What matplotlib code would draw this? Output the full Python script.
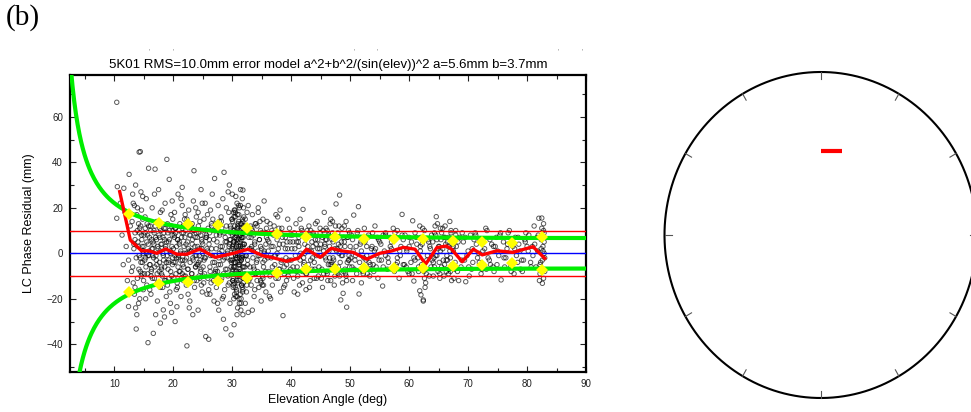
import numpy as np
import matplotlib
matplotlib.use("Agg")
import matplotlib.pyplot as plt
from matplotlib.ticker import MultipleLocator

plt.rcParams['font.family'] = ['Liberation Sans', 'DejaVu Sans']

# ---------------- data ----------------
title = "5K01 RMS=10.0mm error model a^2+b^2/(sin(elev))^2 a=5.6mm b=3.7mm"
model_a = 5.6
model_b = 3.7
rms_level = 10.0

# scatter residuals (elevation deg, residual mm)
scatter_elev = [
    10.4, 10.5, 10.4, 11.0, 11.3, 11.5, 11.8, 12.0, 12.2, 12.4,
    12.5, 12.7, 12.9, 13.1, 13.3, 13.5, 13.7, 13.9, 12.4, 11.6,
    13.0, 13.1, 13.2, 13.3, 13.4, 13.5, 13.6, 13.7, 13.8, 13.9,
    14.0, 14.1, 14.2, 14.3, 14.4, 14.5, 14.6, 14.7, 14.8, 14.9,
    13.2, 13.5, 13.8, 14.1, 14.4, 14.7, 14.9, 13.4, 14.2, 14.6,
    13.9, 14.3, 14.8, 13.6, 14.5,
    15.0, 15.1, 15.2, 15.3, 15.4, 15.5, 15.6, 15.7, 15.8, 15.9,
    16.0, 16.1, 16.2, 16.3, 16.4, 16.5, 16.6, 16.7, 16.8, 16.9,
    17.0, 17.1, 17.2, 17.3, 17.4, 17.5, 17.6, 17.7, 17.8, 17.9,
    18.0, 18.1, 18.2, 18.3, 18.4, 18.5, 18.6, 18.7, 18.8, 18.9,
    19.0, 19.1, 19.2, 19.3, 19.4, 19.5, 19.6, 19.7, 19.8, 19.9,
    15.3, 15.8, 16.3, 16.8, 17.3, 17.8, 18.3, 18.8, 19.3, 19.8,
    15.5, 16.0, 16.5, 17.0, 17.5, 18.0, 18.5, 19.0, 19.5, 19.9,
    15.2, 15.7, 16.2, 16.7, 17.2, 17.7, 18.2, 18.7, 19.2, 19.7,
    20.0, 20.1, 20.2, 20.3, 20.4, 20.5, 20.6, 20.7, 20.8, 20.9,
    21.0, 21.1, 21.2, 21.3, 21.4, 21.5, 21.6, 21.7, 21.8, 21.9,
    22.0, 22.1, 22.2, 22.3, 22.4, 22.5, 22.6, 22.7, 22.8, 22.9,
    23.0, 23.1, 23.2, 23.3, 23.4, 23.5, 23.6, 23.7, 23.8, 23.9,
    24.0, 24.1, 24.2, 24.3, 24.4, 24.5, 24.6, 24.7, 24.8, 24.9,
    20.3, 20.8, 21.3, 21.8, 22.3, 22.8, 23.3, 23.8, 24.3, 24.8,
    20.5, 21.0, 21.5, 22.0, 22.5, 23.0, 23.5, 24.0, 24.5, 24.9,
    20.2, 20.7, 21.2, 21.7, 22.2, 22.7, 23.2, 23.7, 24.2, 24.7,
    25.0, 25.1, 25.2, 25.3, 25.4, 25.5, 25.6, 25.7, 25.8, 25.9,
    26.0, 26.1, 26.2, 26.3, 26.4, 26.5, 26.6, 26.7, 26.8, 26.9,
    27.0, 27.1, 27.2, 27.3, 27.4, 27.5, 27.6, 27.7, 27.8, 27.9,
    28.0, 28.1, 28.2, 28.3, 28.4, 28.5, 28.6, 28.7, 28.8, 28.9,
    29.0, 29.1, 29.2, 29.3, 29.4, 29.5, 29.6, 29.7, 29.8, 29.9,
    25.3, 25.8, 26.3, 26.8, 27.3, 27.8, 28.3, 28.8, 29.3, 29.8,
    25.5, 26.0, 26.5, 27.0, 27.5, 28.0, 28.5, 29.0, 29.5, 29.9,
    25.2, 25.7, 26.2, 26.7, 27.2, 27.7, 28.2, 28.7, 29.2, 29.7,
    30.0, 30.1, 30.2, 30.3, 30.4, 30.5, 30.6, 30.7, 30.8, 30.9,
    31.0, 31.1, 31.2, 31.3, 31.4, 31.5, 31.6, 31.7, 31.8, 31.9,
    30.0, 30.2, 30.4, 30.6, 30.8, 31.0, 31.2, 31.4, 31.6, 31.8,
    30.1, 30.3, 30.5, 30.7, 30.9, 31.1, 31.3, 31.5, 31.7, 31.9,
    30.05, 30.25, 30.45, 30.65, 30.85, 31.05, 31.25, 31.45, 31.65, 31.85,
    30.15, 30.35, 30.55, 30.75, 30.95, 31.15, 31.35, 31.55, 31.75, 31.95,
    30.0, 30.3, 30.6, 30.9, 31.2, 31.5, 31.8, 30.2, 30.8, 31.4,
    32.0, 32.1, 32.2, 32.3, 32.4, 32.5, 32.6, 32.7, 32.8, 32.9,
    33.0, 33.1, 33.2, 33.3, 33.4, 33.5, 33.6, 33.7, 33.8, 33.9,
    34.0, 34.1, 34.2, 34.3, 34.4, 34.5, 34.6, 34.7, 34.8, 34.9,
    35.0, 35.1, 35.2, 35.3, 35.4, 35.5, 35.6, 35.7, 35.8, 35.9,
    33.2, 33.7, 34.2, 34.7, 35.2, 35.7, 33.4, 34.4, 35.4, 34.9,
    32.2, 32.7, 33.3, 33.8, 34.3, 34.8, 35.3, 35.8, 32.5, 33.5,
    36.0, 36.2, 36.4, 36.6, 36.8, 37.0, 37.2, 37.4, 37.6, 37.8,
    38.0, 38.2, 38.4, 38.6, 38.8, 39.0, 39.2, 39.4, 39.6, 39.8,
    36.3, 36.9, 37.5, 38.1, 38.7, 39.3, 39.9, 37.1, 38.3, 39.5,
    36.1, 36.7, 37.3, 37.9, 38.5, 39.1, 39.7, 36.5, 37.7, 38.9,
    40.0, 40.2, 40.4, 40.6, 40.8, 41.0, 41.2, 41.4, 41.6, 41.8,
    42.0, 42.2, 42.4, 42.6, 42.8, 43.0, 43.2, 43.4, 43.6, 43.8,
    44.0, 44.2, 44.4, 44.6, 44.8, 43.1, 43.7, 44.3, 44.9, 40.5,
    40.3, 40.9, 41.5, 42.1, 42.7, 43.3, 43.9, 44.5, 41.1, 42.3,
    41.3, 41.9, 42.5, 43.5, 44.1,
    45.0, 45.2, 45.4, 45.6, 45.8, 46.0, 46.2, 46.4, 46.6, 46.8,
    47.0, 47.2, 47.4, 47.6, 47.8, 48.0, 48.2, 48.4, 48.6, 48.8,
    49.0, 49.2, 49.4, 49.6, 49.8, 45.1, 45.7, 46.3, 46.9, 47.5,
    48.1, 48.7, 49.3, 49.9, 45.3, 45.9, 46.5, 47.1, 47.7, 48.3,
    48.9, 49.5, 45.5, 46.1, 46.7, 47.3, 47.9, 48.5, 49.1, 49.7,
    45.8, 46.6, 47.4, 48.2, 49.0, 49.8, 46.0, 47.0, 48.0, 49.4,
    50.0, 50.3, 50.6, 50.9, 51.2, 51.5, 51.8, 52.1, 52.4, 52.7,
    53.0, 53.3, 53.6, 53.9, 54.2, 54.5, 54.8, 51.4, 50.4, 52.9,
    50.2, 50.8, 51.1, 51.7, 52.3, 52.6, 53.5, 54.1, 54.7, 53.8,
    50.5, 51.9, 52.8, 53.2, 54.4,
    55.0, 55.5, 56.0, 56.5, 57.0, 57.5, 58.0, 58.5, 59.0, 59.5,
    60.0, 60.5, 61.0, 61.5, 58.8, 60.6, 60.8, 55.3, 56.3, 57.3,
    58.3, 59.3, 60.3, 61.3, 55.8, 56.8, 57.8, 58.6, 59.8, 61.8,
    56.0, 57.0, 58.0, 59.0, 60.0, 61.0, 57.6, 59.6, 61.6, 55.6,
    61.8, 62.0, 62.2, 62.4, 62.5, 62.6, 62.8, 63.0, 63.2, 63.4,
    63.6, 63.8, 62.1, 62.7, 63.1, 63.5, 62.3, 62.9, 63.7, 61.9,
    62.4, 63.3, 62.6, 63.9, 62.0,
    64.0, 64.3, 64.6, 64.9, 65.2, 65.5, 65.8, 66.1, 66.4, 66.7,
    67.0, 67.3, 67.6, 67.9, 64.2, 64.8, 65.4, 66.0, 66.6, 67.2,
    64.5, 65.1, 65.7, 66.3, 66.9, 67.5, 64.1, 65.0, 66.8, 67.7,
    65.3, 65.9, 66.5, 67.1, 64.7,
    68.0, 68.4, 68.8, 69.2, 69.6, 70.0, 70.4, 70.8, 71.2, 71.6,
    72.0, 72.4, 72.8, 73.2, 73.6, 74.0, 74.4, 74.8, 75.2, 75.6,
    76.0, 76.4, 76.8, 77.2, 77.6, 78.0, 78.4, 78.8, 79.2, 79.6,
    68.2, 69.0, 69.8, 70.6, 71.4, 72.2, 73.0, 73.8, 74.6, 75.4,
    76.2, 77.0, 77.8, 78.6, 79.4, 68.6, 70.2, 71.8, 73.4, 75.0,
    76.6, 78.2, 79.8, 69.4, 71.0, 72.6, 74.2, 77.4, 78.9, 80.0,
    80.3, 80.6, 80.9, 81.2, 81.5, 81.8, 82.0, 82.2, 82.4, 82.5,
    82.6, 82.7, 82.8, 82.9, 83.0, 82.5, 82.6, 82.8, 82.3, 82.9,
    81.0, 81.7, 82.1, 82.7, 83.0,
    17.8, 20.3, 32.7, 28.5, 31.8, 29.5, 21.5, 18.5,
]
scatter_resid = [
    66.4, 29.3, 15.4, 22, 8, -5, 18, 3, -12, -23.4,
    34.7, 12, -8, 26, 4, -15, -33.3, 20, -3, 28.6,
    14, -6, 22, 2, -18, 9, 30, -2, 17, -11,
    5, -22, 44.5, 11, 44.7, -4, 19, -9, 25, 0,
    -13, 6, -27, 13, -8, 3, -16, 21, -1, 8,
    10, -20, 15, -24, 27,
    3, -9, 16, -2, 24, -14, 8, -39.3, 37.4, 1,
    -5, 12, -18, 6, 20, -1, -35.2, 10, -11, 37.0,
    7, -3, 14, -21, 2, 28, -8, 11, -15, 4,
    -6, 19, 0, -24.9, 9, -12, 22, 3, -4, 41.3,
    13, -7, 5, 32.5, -17, 1, 17, -10, 8, -2,
    -20, 12, -7, 26, -13, 18, -1, -19, 10, 23,
    5, -16, 2, -27, 14, -9, 6, -14, -22, 15,
    9, -1, -10, 4, -5, 7, -15, 11, -3, -26,
    2, -11, 18, -4, 9, -16, -23.5, 6, 26, -1,
    -8, 13, 0, -19, 7, 21, -5, -12, 3, 15,
    -3, 10, -14, -40.7, 5, -7, 19, 1, -21, 8,
    12, -9, 4, -2, 23, 36.3, -15, 7, -6, 16,
    -12, 3, -25, 9, -1, 14, -8, 28, 2, -17,
    11, -6, 24, -10, 15, -13, -27, 20, -4, 6,
    -2, 4, -9, 17, -18, 1, 10, -5, -11, 22,
    7, -15, -3, 9, 0, -24, 13, -1, 18, -7,
    4, -10, 15, -2, 22, -36.6, 8, -18, 1, 11,
    -37.8, 6, -6, 19, -13, 2, 26, -4, 10, -21,
    32.9, -1, 13, -15, 5, -8, 21, -25, 0, 9,
    -5, 16, -11, 3, 24, -19, 35.6, -2, 7, -33.2,
    12, -7, 1, -14, 18, 4, -22, 9, -35.9, -3,
    -9, 17, -1, -12, 8, 14, -20, 5, 27, -6,
    7, -16, 12, -4, -22, 3, -9, 20, -13, 15,
    -3, 2, -18, 15, -7, -2, 11, -16, 0, 6,
    3, -12, 18, -31.4, 7, -4, 25, -17, 11, -1,
    -8, 14, -22, 5, 28, -3, -14, 9, -27, 20,
    15, -6, 1, -19, 22, 6, -10, 13, -2, -16,
    -3, 10, -15, 4, -24, 17, -7, 2, 24, -11,
    8, -20, 12, -9, 0, 21, -5, -25, 7, -13,
    -11, 19, -1, 9, -13, 2, -18, 11, -6, 16,
    26, 5, -8, 12, -2, -20, 3, -14, -27, 8,
    4, -9, 15, -1, -17, 10, -5, 21, -12, 2,
    -6, 12, -14, 3, 17, -2, 8, -19, 5, -9,
    13, -4, -12, 1, 20, -15, 6, -1, 10, -21,
    2, -10, 15, -6, 23, -3, 9, -17, -1, 14,
    7, -7, -3, 14, -11, 4, -25, 18, 0, -13,
    -22, 9, 11, -16, -8, 3, -14, 7, 18, 1,
    6, -8, 13, -2, -14, 9, -5, 17, 0, -11,
    4, -17, 11, -27.4, -6, 2, -12, 15, -3, 8,
    -19, 3, -9, 19, -15, 5, -7, 12, -4, -10,
    1, 10, -1, -7, 7, -2, 11, -20, 16, -14,
    -3, 8, -11, 2, 13, -6, 5, -14, 0, 10,
    19.3, -4, 7, -9, 3, 12, -12, 1, -2, 8,
    -7, 4, 14, -10, 2, -15, 9, -1, 11, -17,
    5, -8, 15, -5, 10, -3, -11, 6, -18, 0,
    3, -13, -16, 5, 13,
    4, -7, 10, 18.0, -2, 6, -12, 1, 13, -5,
    9, -3, -10, 21.7, 2, -6, 25.6, -20.5, 11, -17.6,
    5, -9, -23.7, 7, -1, -11, 3, 8, -4, 12,
    0, -13, 14, -6, -15, 11, -2, 5, -8, 3,
    7, -4, 1, -9, 15, -14, 9, -1, -7, 10,
    6, -5, 2, -10, 12, -3, -8, 14, 4, -12,
    3, -6, 16.8, -1, 9, -17.9, 5, -8, 11, -3,
    7, -10, 2, -5, 12, -1, 6, 20.5, -12, -9,
    8, -3, -9, 4, -2, 6, -7, 1, -11, 9,
    1, -13, 3, -4, -6,
    5, -14.4, 8, -4, 2, -8, 10, -1, 6, -6,
    3, -9, 9, -2, 17.1, 14.3, -12.2, -3, -7, 11,
    -11, 8, -4, 4, 1, 7, -5, 3, -8, 12,
    -1, 5, -2, -5, 7, -3, 9, 1, -6, 8,
    -16.5, -18.3, 4, -21.0, -8, 10, -13, -3, 6, -10,
    2, 8, -5, -15, -1, 3, 11, -9, -6, 1,
    -20.5, 5, -11, -3, 7,
    5, -6, 16.1, 2, -9, 9, -3, 12, -1, 7,
    -8, 4, -11, 10, -2, 13, 6, -5, 3, -12,
    8, -4, 11, -8, 14, 1, -10, 3, -7, 6,
    1, 7, -3, 9, -1,
    3, -12, -6, 5, -12.5, 1, 8, -4, 9, -2,
    6, -7, 2, 10, -3, 4, -8, 7, -1, -11.7,
    5, -2, 9, -6, 3, 7, -4, 1, -8, 6,
    -8, 9, -1, -7, 4, -9, 11, -5, 3, 8,
    -6, 10, -9, 4, -3, 7, -10, 0, -2, 1,
    2, -1, 9, -3, 6, -5, -6, 5, -7, 3,
    8, -4, 3, 12, -6, 1, 15.4, -9, 6, 15.5,
    -13.2, 3, -11, 9, -2, 11, -7, 13, -4, 5,
    -1, 7, -12, 1, -8,
    -30.7, -30, -26, -29, 27.8, 30, 29, -28,
]

# dense core of the point cloud (within roughly +-20 mm)
core_elev = [
    14.05, 14.15, 14.25, 14.35, 14.45, 14.55, 14.65, 14.75, 14.85, 14.95,
    15.05, 15.15, 15.25, 15.35, 15.45, 15.55, 15.65, 15.75, 15.85, 15.95,
    16.05, 16.15, 16.25, 16.35, 16.45, 16.55, 16.65, 16.75, 16.85, 16.95,
    17.05, 17.15, 17.25, 17.35, 17.45, 17.55, 17.65, 17.75, 17.85, 17.95,
    18.05, 18.15, 18.25, 18.35, 18.45, 18.55, 18.65, 18.75, 18.85, 18.95,
    19.05, 19.15, 19.25, 19.35, 19.45, 19.55, 19.65, 19.75, 19.85, 19.95,
    20.05, 20.15, 20.25, 20.35, 20.45, 20.55, 20.65, 20.75, 20.85, 20.95,
    21.05, 21.15, 21.25, 21.35, 21.45, 21.55, 21.65, 21.75, 21.85, 21.95,
    22.05, 22.15, 22.25, 22.35, 22.45, 22.55, 22.65, 22.75, 22.85, 22.95,
    23.05, 23.15, 23.25, 23.35, 23.45, 23.55, 23.65, 23.75, 23.85, 23.95,
    24.05, 24.15, 24.25, 24.35, 24.45, 24.55, 24.65, 24.75, 24.85, 24.95,
    25.05, 25.25, 25.45, 25.65, 25.85, 26.05, 26.25, 26.45, 26.65, 26.85,
    27.05, 27.25, 27.45, 27.65, 27.85, 28.05, 28.25, 28.45, 28.65, 28.85,
    29.05, 29.25, 29.45, 29.65, 29.85, 25.15, 26.15, 27.15, 28.15, 29.15,
    29.55, 29.65, 29.75, 29.85, 29.95, 30.05, 30.15, 30.25, 30.35, 30.45,
    30.55, 30.65, 30.75, 30.85, 30.95, 31.05, 31.15, 31.25, 31.35, 31.45,
    31.55, 31.65, 31.75, 31.85, 31.95, 32.05, 32.15, 32.25, 32.35, 32.45,
    30.1, 30.2, 30.3, 30.4, 30.5, 30.6, 30.7, 30.8, 30.9, 31.0,
    31.1, 31.2, 31.3, 31.4, 31.5, 31.6, 31.7, 31.8, 31.9, 30.0,
    30.12, 30.32, 30.52, 30.72, 30.92, 31.12, 31.32, 31.52, 31.72, 31.92,
    30.18, 30.38, 30.58, 30.78, 30.98, 31.18, 31.38, 31.58, 31.78, 31.98,
    30.08, 30.28, 30.48, 30.68, 30.88, 31.08, 31.28, 31.48, 31.68, 31.88,
    32.6, 32.8, 33.0, 33.2, 33.4, 33.6, 33.8, 34.0, 34.2, 34.4,
    34.6, 34.8, 35.0, 35.2, 35.4, 35.6, 35.8, 36.0, 36.2, 36.4,
    36.6, 36.8, 37.0, 37.2, 37.4, 37.6, 37.8, 38.0, 38.2, 38.4,
    38.6, 38.8, 39.0, 39.2, 39.4, 39.6, 39.8, 33.9, 35.1, 37.9,
    40.1, 40.3, 40.5, 40.7, 40.9, 41.1, 41.3, 41.5, 41.7, 41.9,
    42.1, 42.3, 42.5, 42.7, 42.9, 43.1, 43.3, 43.5, 43.7, 43.9,
    44.1, 44.3, 44.5, 44.7, 44.9, 45.1, 45.3, 45.5, 45.7, 45.9,
    46.1, 46.3, 46.5, 46.7, 46.9, 47.1, 47.3, 47.5, 47.7, 47.9,
    48.1, 48.3, 48.5, 48.7, 48.9, 49.1, 49.3, 49.5, 49.7, 49.9,
    50.1, 50.4, 50.7, 51.0, 51.3, 51.6, 51.9, 52.2, 52.5, 52.8,
    53.1, 53.4, 53.7, 54.0, 54.3, 54.6, 54.9, 55.2, 55.6, 56.0,
    56.4, 56.8, 57.2, 57.6, 58.0, 58.4, 58.8, 59.2, 59.6, 60.0,
    60.4, 60.8, 61.2, 61.6, 61.9,
    64.1, 64.3, 64.5, 64.7, 64.9, 65.1, 65.3, 65.5, 65.7, 65.9,
    66.1, 66.3, 66.5, 66.7, 66.9, 67.1, 67.3, 67.5, 67.7, 67.9,
    64.4, 65.2, 66.2, 67.0, 67.8,
    68.3, 68.9, 69.5, 70.1, 70.7, 71.3, 71.9, 72.5, 73.1, 73.7,
    74.3, 74.9, 75.5, 76.1, 76.7, 77.3, 77.9, 78.5, 79.1, 79.7,
    80.2, 80.7, 81.3, 81.9, 82.2, 82.4, 82.6, 82.8, 82.1, 82.9,
]
core_resid = [
    3, -7, 9, -2, 12, -10, 6, -4, 1, -12,
    8, -3, 11, -6, 0, 13, -9, 4, -1, 7,
    -5, 10, -8, 2, -11, 5, -2, 9, -6, 12,
    -1, 6, -9, 3, -13, 8, -4, 1, 10, -7,
    4, -10, 7, -3, 11, -6, 2, -12, 5, -1,
    9, -4, -11, 6, 0, -8, 12, 3, -5, 10,
    -4, 8, -1, 11, -9, 3, -13, 6, -2, 10,
    5, -8, 1, -11, 9, -3, 12, -6, 0, 7,
    -10, 4, -2, 13, -7, 2, -12, 8, -4, 11,
    1, -9, 6, -3, 10, -12, 3, -6, 9, -1,
    7, -5, 12, -10, 2, -3, 8, -14, 5, 0,
    -6, 10, -2, 7, -11, 4, -8, 13, -1, 6,
    -9, 2, 11, -5, 8, -12, 1, -3, 9, -7,
    5, -10, 3, 12, -4, -13, 9, -8, 14, -2,
    6, -3, 11, -9, 2, 14, -15, 5, -6, 19,
    -1, 8, -12, 17, -4, 3, -20, 10, -8, 1,
    13, -2, -17, 7, -10, 4, -6, 12, -1, -14,
    -7, 4, 9, -13, 16, -2, 6, -19, 1, 11,
    -5, 20, -9, 3, -22, 7, -1, 14, -11, -8,
    10, -4, 18, -16, 5, -12, 8, -3, 15, -6,
    2, -18, 7, -2, 13, -9, 21, -14, 4, -1,
    -12, 16, -6, 3, -10, 9, -4, 6, -15, 12,
    -3, 7, -11, 2, 10, -6, 4, -9, 12, -1,
    6, -12, 9, -4, 1, -8, 11, -2, 5, -10,
    3, -6, 8, -1, -11, 6, 2, -7, 9, -3,
    4, -9, 7, -5, 2, -8, 5, 13, -14, 11,
    2, -6, 9, -1, 5, -10, 7, -3, 11, -8,
    -2, 4, -9, 8, -5, 1, 10, -7, 3, -4,
    6, -11, 2, -6, 9, -1, 7, -9, 4, -3,
    10, -5, 3, -12, 6, -2, 8, -6, 1, -9,
    12, -4, 5, -1, -8, 3, -10, 7, -3, 9,
    -2, 6, -7, 3, 10, -4, 1, -9, 5, -1,
    8, -5, 3, -8, 2, 7, -3, 4, -6, 9,
    -2, 3, -7, 6, -4, 1, 8, -5, 2, -9,
    5, -2, 7, -8, 3,
    -4, 9, -1, 6, -8, 3, 11, -6, 2, -10,
    7, -3, 5, -9, 1, 10, -5, 3, -7, 8,
    12, -11, 4, -2, -4,
    5, -3, 7, -6, 2, 8, -4, 1, -7, 6,
    3, -5, 9, -2, 4, -8, 2, 7, -3, 5,
    1, -6, 4, 8, -5, 2, -3, 10, -7, 0,
]

# binned RMS (yellow diamonds)
bin_elev = [12.4, 17.5, 22.5, 27.5, 32.5, 37.5, 42.5, 47.4, 52.4, 57.4,
            62.4, 67.4, 72.4, 77.4, 82.5]
bin_rms = [17.2, 13.5, 12.7, 12.4, 11.0, 8.5, 7.0, 7.0, 6.3, 6.3,
           6.3, 5.4, 5.1, 4.4, 7.3]

# running mean (red line)
mean_elev = [10.9, 12.7, 14.6, 15.8, 17.2, 18.7, 20.6, 22.3, 24.5, 27.1,
             30.2, 32.7, 35.3, 36.7, 39.2, 41.2, 42.6, 44.9, 46.8, 48.5,
             50.5, 52.8, 55.0, 57.0, 59.0, 61.0, 62.8, 64.7, 66.3, 67.2,
             69.0, 70.9, 72.4, 74.9, 77.6, 81.0, 83.0]
mean_resid = [27.1, 5.8, 1.1, 1.1, 0.0, 1.9, -0.4, -0.4, 1.9, -1.8,
              0.0, 1.8, -1.2, -1.8, -3.5, -2.2, 1.8, -1.8, 2.2, 1.1,
              0.4, -2.6, 0.0, 1.0, 2.6, 1.8, -4.8, 2.5, 3.2, 1.8,
              -3.7, 1.8, -0.7, 1.1, 0.4, 2.9, -2.2]

# sky plot track (red dash) in normalized sky coordinates
track_x = [0.0, 0.136]
track_y = [0.515, 0.515]

x_ticks = [10, 20, 30, 40, 50, 60, 70, 80, 90]
y_ticks = [-40, -20, 0, 20, 40, 60]

# ---------------- figure ----------------
W, H = 971, 412
fig = plt.figure(figsize=(W / 100, H / 100), dpi=100)

def rect(l, t, r, b):
    return [l / W, 1 - b / H, (r - l) / W, (b - t) / H]

ax = fig.add_axes(rect(70, 75, 586, 372))

# model curves from the error model stated in the title
elev_grid = np.linspace(2.3, 90, 600)
model = np.sqrt(model_a ** 2 + model_b ** 2 / np.sin(np.radians(elev_grid)) ** 2)

all_elev = scatter_elev + core_elev
all_resid = scatter_resid + core_resid
ax.scatter(all_elev, all_resid, s=10, facecolors='none', edgecolors='black',
           linewidths=0.7, alpha=0.65, zorder=2)
ax.axhline(rms_level, color='#ff0000', lw=1.0, zorder=3)
ax.axhline(-rms_level, color='#ff0000', lw=1.0, zorder=3)
ax.axhline(0, color='#0000ff', lw=1.0, zorder=3)
ax.plot(elev_grid, model, color='#00ee00', lw=3.0, zorder=4, solid_capstyle='butt')
ax.plot(elev_grid, -model, color='#00ee00', lw=3.0, zorder=4, solid_capstyle='butt')
ax.plot(mean_elev, mean_resid, color='#ff0000', lw=2.4, zorder=5)
ax.plot(bin_elev, bin_rms, linestyle='none', marker='D', ms=6, color='#ffff00',
        markeredgewidth=0, zorder=6)
ax.plot(bin_elev, [-v for v in bin_rms], linestyle='none', marker='D', ms=6,
        color='#ffff00', markeredgewidth=0, zorder=6)

ax.set_xlim(2.47, 90)
ax.set_ylim(-52.2, 78.4)
ax.set_xticks(x_ticks)
ax.set_yticks(y_ticks)
ax.xaxis.set_minor_locator(MultipleLocator(5))
ax.yaxis.set_minor_locator(MultipleLocator(10))
ax.tick_params(which='both', direction='in', top=True, right=True,
               labelsize=7, colors='#222222', width=0.8)
ax.tick_params(which='major', length=4, pad=5)
ax.tick_params(which='minor', length=3)
for sp in ax.spines.values():
    sp.set_linewidth(1.6)
ax.set_xlabel("Elevation Angle (deg)", fontsize=9, labelpad=4)
ax.set_ylabel("LC Phase Residual (mm)", fontsize=9, labelpad=8)
ax.set_title(title, fontsize=9.5, pad=5)

fig.text(6 / W, 1 - 18 / H, "(b)", family=['Liberation Serif', 'DejaVu Serif'],
         fontsize=21, va='center', ha='left')

for mx in [149, 173, 354, 377, 558, 582]:
    fig.text(mx / W, 1 - 52 / H, "'", fontsize=5, color='#777777',
             ha='center', va='center')

# sky plot
sky = fig.add_axes(rect(664.5, 72, 977, 398))
sky.set_xlim(-1, 1)
sky.set_ylim(-1, 1)
sky.axis('off')
th = np.linspace(0, 2 * np.pi, 721)
sky.plot(np.cos(th), np.sin(th), color='black', lw=1.5, clip_on=False)
for k in range(12):
    ang = np.radians(90 - 30 * k)
    sky.plot([np.cos(ang), 0.955 * np.cos(ang)], [np.sin(ang), 0.955 * np.sin(ang)],
             color='#555555', lw=0.8, clip_on=False)
sky.plot(track_x, track_y, color='#ff0000', lw=3, solid_capstyle='butt')

fig.savefig("out.png", dpi=100)
